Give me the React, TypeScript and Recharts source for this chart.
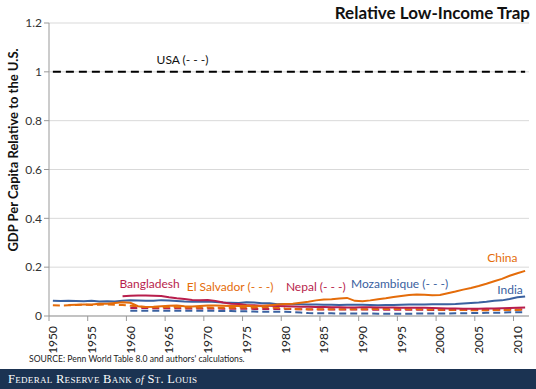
import React from "react";
import {
  LineChart,
  Line,
  XAxis,
  YAxis,
  CartesianGrid,
  ReferenceDot,
} from "recharts";

const years = Array.from({ length: 62 }, (_, i) => 1950 + i);

const usa = years.map(() => 1.0);

// 1950-2011
const india = [
  0.062, 0.061, 0.062, 0.061, 0.06, 0.062, 0.059, 0.06, 0.059, 0.062,
  0.064, 0.063, 0.062, 0.062, 0.065, 0.063, 0.061, 0.059, 0.058, 0.058,
  0.059, 0.057, 0.055, 0.054, 0.053, 0.056, 0.055, 0.052, 0.052, 0.048,
  0.049, 0.048, 0.048, 0.047, 0.047, 0.046, 0.046, 0.045, 0.046, 0.046,
  0.046, 0.045, 0.044, 0.045, 0.045, 0.046, 0.047, 0.047, 0.047, 0.048,
  0.048, 0.048, 0.049, 0.051, 0.053, 0.055, 0.058, 0.062, 0.064, 0.07,
  0.077, 0.08,
];

const china = [
  null, null, 0.045, 0.046, 0.047, 0.047, 0.05, 0.05, 0.053, 0.056,
  0.054, 0.04, 0.037, 0.038, 0.04, 0.042, 0.043, 0.04, 0.039, 0.041,
  0.043, 0.043, 0.042, 0.041, 0.041, 0.042, 0.04, 0.041, 0.044, 0.047,
  0.049, 0.05, 0.054, 0.058, 0.064, 0.068, 0.069, 0.072, 0.074, 0.062,
  0.06, 0.064, 0.069, 0.073, 0.078, 0.082, 0.086, 0.088, 0.087, 0.085,
  0.086, 0.093, 0.1, 0.108, 0.115, 0.123, 0.132, 0.142, 0.152, 0.165,
  0.175, 0.185,
];

const bangladesh = [
  null, null, null, null, null, null, null, null, null, 0.081,
  0.083, 0.084, 0.084, 0.083, 0.082, 0.077, 0.073, 0.07, 0.066, 0.064,
  0.066, 0.062, 0.055, 0.05, 0.049, 0.045, 0.044, 0.042, 0.042, 0.041,
  0.04, 0.039, 0.038, 0.038, 0.037, 0.037, 0.036, 0.036, 0.035, 0.035,
  0.036, 0.036, 0.035, 0.035, 0.035, 0.034, 0.034, 0.034, 0.034, 0.033,
  0.032, 0.031, 0.031, 0.03, 0.03, 0.03, 0.031, 0.031, 0.032, 0.033,
  0.034, 0.035,
];

const elSalvador = [
  0.044, 0.043, 0.044, 0.045, 0.046, 0.045, 0.046, 0.047, 0.046, 0.045,
  0.042, 0.039, 0.037, 0.036, 0.036, 0.037, 0.036, 0.035, 0.035, 0.034,
  0.035, 0.034, 0.034, 0.034, 0.035, 0.035, 0.035, 0.036, 0.036, 0.034,
  0.031, 0.029, 0.028, 0.028, 0.028, 0.028, 0.028, 0.028, 0.028, 0.028,
  0.028, 0.028, 0.029, 0.029, 0.029, 0.029, 0.028, 0.028, 0.027, 0.027,
  0.026, 0.026, 0.025, 0.025, 0.024, 0.024, 0.024, 0.025, 0.025, 0.025,
  0.025, 0.026,
];

const nepal = [
  null, null, null, null, null, null, null, null, null, null,
  0.033, 0.033, 0.033, 0.032, 0.032, 0.032, 0.032, 0.031, 0.031, 0.031,
  0.031, 0.031, 0.03, 0.03, 0.03, 0.03, 0.029, 0.029, 0.029, 0.029,
  0.029, 0.028, 0.028, 0.027, 0.027, 0.027, 0.027, 0.027, 0.027, 0.027,
  0.027, 0.026, 0.026, 0.026, 0.026, 0.026, 0.026, 0.026, 0.025, 0.025,
  0.025, 0.025, 0.025, 0.025, 0.025, 0.025, 0.025, 0.026, 0.026, 0.027,
  0.027, 0.027,
];

const mozambique = [
  null, null, null, null, null, null, null, null, null, null,
  0.021, 0.021, 0.022, 0.022, 0.022, 0.022, 0.022, 0.021, 0.021, 0.021,
  0.021, 0.021, 0.02, 0.02, 0.019, 0.019, 0.018, 0.017, 0.017, 0.017,
  0.017, 0.016, 0.014, 0.012, 0.011, 0.011, 0.011, 0.01, 0.01, 0.01,
  0.01, 0.01, 0.009, 0.009, 0.009, 0.009, 0.009, 0.01, 0.01, 0.01,
  0.01, 0.01, 0.011, 0.011, 0.012, 0.012, 0.013, 0.013, 0.014, 0.015,
  0.015, 0.016,
];

const yTicks = [0, 0.2, 0.4, 0.6, 0.8, 1, 1.2];
const xTicks = [1949.5, 1954.5, 1959.5, 1964.5, 1969.5, 1974.5, 1979.5, 1984.5, 1989.5, 1994.5, 1999.5, 2004.5, 2009.5];

const data = years.map((year, i) => ({
  year,
  usa: usa[i],
  india: india[i],
  china: china[i],
  bangladesh: bangladesh[i],
  elSalvador: elSalvador[i],
  nepal: nepal[i],
  mozambique: mozambique[i],
}));

const ORANGE = "#E46C0A";
const CRIMSON = "#B81E4C";
const BLUE = "#3A61A0";
const FONT = "Lato, 'Open Sans', sans-serif";

const seriesLabels = [
  { text: "USA (- - -)", year: 1963.4, value: 1.05, color: "#111" },
  { text: "Bangladesh", year: 1958.6, value: 0.134, color: CRIMSON },
  { text: "El Salvador (- - -)", year: 1967.3, value: 0.122, color: ORANGE },
  { text: "Nepal (- - -)", year: 1980.1, value: 0.122, color: CRIMSON },
  { text: "Mozambique (- - -)", year: 1988.5, value: 0.134, color: BLUE },
  { text: "China", year: 2006.1, value: 0.24, color: ORANGE },
  { text: "India", year: 2007.4, value: 0.108, color: BLUE },
];

function YearTick(props: any) {
  const { x, y, payload } = props;
  const label = String(Math.round(payload.value + 0.5));
  return (
    <text
      x={0}
      y={0}
      transform={`translate(${x + 8.3},${y + 3}) rotate(-90)`}
      textAnchor="end"
      fontSize={12}
      fontFamily={FONT}
      fill="#222"
    >
      {label}
    </text>
  );
}

export default function App() {
  return (
    <div
      style={{
        position: "absolute",
        left: 0,
        top: 0,
        width: 536,
        height: 389,
        background: "#fff",
        fontFamily: FONT,
        overflow: "hidden",
      }}
    >
      <div
        style={{
          position: "absolute",
          right: 6,
          top: 2,
          fontSize: 17,
          fontWeight: 700,
          color: "#111",
        }}
      >
        Relative Low-Income Trap
      </div>
      <div
        style={{
          position: "absolute",
          left: 13,
          top: 150,
          transform: "translate(-50%, -50%) rotate(-90deg)",
          whiteSpace: "nowrap",
          fontSize: 13,
          fontWeight: 700,
          color: "#111",
        }}
      >
        GDP Per Capita Relative to the U.S.
      </div>
      <div style={{ position: "absolute", left: 0, top: 0 }}>
        <LineChart
          width={536}
          height={362}
          data={data}
          margin={{ top: 23, right: 7, left: 9, bottom: 0 }}
        >
          <CartesianGrid vertical={false} stroke="#D9D9D9" />
          <XAxis
            dataKey="year"
            type="number"
            domain={[1949.5, 2011.5]}
            ticks={xTicks}
            tick={<YearTick />}
            interval={0}
            height={46}
            stroke="#999"
            tickSize={5}
            allowDataOverflow
          />
          <YAxis
            domain={[0, 1.2]}
            ticks={yTicks}
            width={40}
            stroke="#999"
            tickSize={5}
            tick={{ fontSize: 12, fill: "#333", fontFamily: FONT }}
            tickFormatter={(v: number) => String(v)}
          />
          <Line type="linear" dataKey="usa" stroke="#000" strokeWidth={2} strokeDasharray="8 5" dot={false} isAnimationActive={false} />
          <Line type="linear" dataKey="mozambique" stroke={BLUE} strokeWidth={2} strokeDasharray="7 4" dot={false} isAnimationActive={false} />
          <Line type="linear" dataKey="nepal" stroke={CRIMSON} strokeWidth={2} strokeDasharray="7 4" dot={false} isAnimationActive={false} />
          <Line type="linear" dataKey="elSalvador" stroke={ORANGE} strokeWidth={2} strokeDasharray="7 4" dot={false} isAnimationActive={false} />
          <Line type="linear" dataKey="india" stroke={BLUE} strokeWidth={2} dot={false} isAnimationActive={false} />
          <Line type="linear" dataKey="bangladesh" stroke={CRIMSON} strokeWidth={2} dot={false} isAnimationActive={false} />
          <Line type="linear" dataKey="china" stroke={ORANGE} strokeWidth={2} dot={false} isAnimationActive={false} />
          {seriesLabels.map((s) => (
            <ReferenceDot
              key={s.text}
              x={s.year}
              y={s.value}
              r={0}
              fill="none"
              stroke="none"
              label={(p: any) => (
                <text
                  x={p.viewBox.x}
                  y={p.viewBox.y}
                  dominantBaseline="central"
                  fontSize={12}
                  fontFamily={FONT}
                  fill={s.color}
                >
                  {s.text}
                </text>
              )}
            />
          ))}
        </LineChart>
      </div>
      <div
        style={{
          position: "absolute",
          left: 29,
          top: 354,
          fontSize: 8.6,
          color: "#222",
          whiteSpace: "nowrap",
        }}
      >
        SOURCE: Penn World Table 8.0 and authors' calculations.
      </div>
      <div
        style={{
          position: "absolute",
          left: 0,
          top: 369,
          width: 536,
          height: 20,
          background: "#1B3352",
          color: "#fff",
          fontFamily: "'Liberation Serif', 'DejaVu Serif', serif",
          fontSize: 12.5,
          lineHeight: "20px",
          paddingLeft: 8,
          boxSizing: "border-box",
          letterSpacing: 0.3,
        }}
      >
        <span style={{ fontVariant: "small-caps" }}>Federal Reserve Bank </span>
        <span style={{ fontStyle: "italic", fontSize: 10 }}>of</span>
        <span style={{ fontVariant: "small-caps" }}> St. Louis</span>
      </div>
    </div>
  );
}
